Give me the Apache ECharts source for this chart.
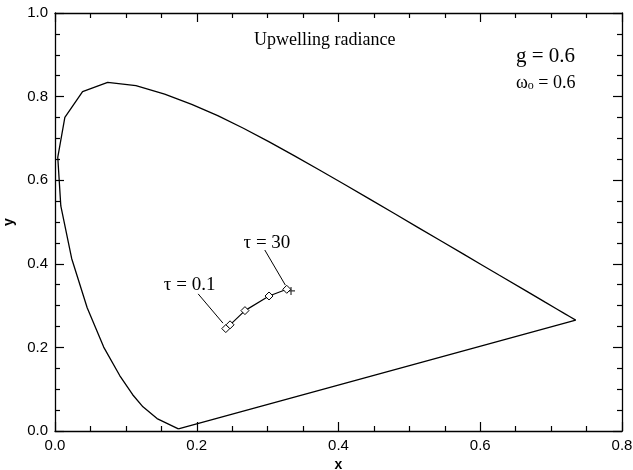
<!DOCTYPE html>
<html>
<head>
<meta charset="utf-8">
<script src="https://cdn.jsdelivr.net/npm/echarts@6/dist/echarts.min.js"></script>
<style>
    html, body { margin: 0; padding: 0; background: #fff; }
    #chart { width: 633px; height: 470px; }
</style>
</head>
<body>
<div id="chart"></div>
<script>
// spectral locus, closed by the purple line back to the start
const locusX = [0.1741, 0.1440, 0.1241, 0.1096, 0.0913, 0.0687, 0.0454, 0.0235, 0.0082, 0.0039,
    0.0139, 0.0389, 0.0743, 0.1142, 0.1547, 0.1929, 0.2296, 0.2658, 0.3016, 0.3373, 0.3731,
    0.4087, 0.4441, 0.4788, 0.5125, 0.5448, 0.5752, 0.6029, 0.6270, 0.6658, 0.6915, 0.7079,
    0.7190, 0.7260, 0.7347, 0.1741];
const locusY = [0.0050, 0.0297, 0.0578, 0.0868, 0.1327, 0.2007, 0.2950, 0.4127, 0.5384, 0.6548,
    0.7502, 0.8120, 0.8338, 0.8262, 0.8059, 0.7816, 0.7543, 0.7243, 0.6923, 0.6589, 0.6245,
    0.5896, 0.5547, 0.5202, 0.4866, 0.4544, 0.4242, 0.3965, 0.3725, 0.3340, 0.3083, 0.2920,
    0.2809, 0.2740, 0.2653, 0.0050];

// upwelling radiance chromaticity for increasing optical depth
const tauX = [0.241, 0.247, 0.268, 0.302, 0.327];
const tauY = [0.245, 0.254, 0.288, 0.323, 0.339];
const whiteX = [0.333];
const whiteY = [0.335];

// text labels and their leader lines
const tauLabels = ['τ = 0.1', 'τ = 30'];
const tauLabelX = [0.190, 0.299];
const tauLabelY = [0.349, 0.450];
const leader01X = [0.202, 0.237];
const leader01Y = [0.328, 0.258];
const leader30X = [0.296, 0.325];
const leader30Y = [0.433, 0.349];

const xTicks = [0, 0.8, 0.2];
const yTicks = [0, 1.0, 0.2];

const zip = (xs, ys) => xs.map((x, i) => [x, ys[i]]);
const fmt = v => v.toFixed(1);

const labelFont = { fontFamily: 'Liberation Sans', fontSize: 15, color: '#000' };
const serif = 'Liberation Serif';

function makeAxis(pos, ticks, showLabel) {
    return {
        type: 'value',
        position: pos,
        min: ticks[0],
        max: ticks[1],
        interval: ticks[2],
        splitLine: { show: false },
        axisLine: { show: true, onZero: false, lineStyle: { color: '#000', width: 1.3 } },
        axisTick: { show: true, inside: true, length: 9, lineStyle: { color: '#000', width: 1.2 } },
        minorTick: { show: true, splitNumber: 4, length: 5, lineStyle: { color: '#000', width: 1.2 } },
        axisLabel: Object.assign({ show: showLabel, formatter: fmt, margin: 7 }, labelFont)
    };
}

const chart = echarts.init(document.getElementById('chart'));
const xBottom = makeAxis('bottom', xTicks, true);
xBottom.name = 'x';
xBottom.nameLocation = 'middle';
xBottom.nameGap = 25;
xBottom.nameTextStyle = { fontFamily: 'Liberation Sans', fontSize: 14, fontWeight: 'bold', color: '#000' };
const yLeft = makeAxis('left', yTicks, true);
yLeft.name = 'y';
yLeft.nameLocation = 'middle';
yLeft.nameGap = 38;
yLeft.nameTextStyle = { fontFamily: 'Liberation Sans', fontSize: 14, fontWeight: 'bold', color: '#000' };

const blackLine = { color: '#000', width: 1.3 };

chart.setOption({
    animation: false,
    backgroundColor: '#fff',
    grid: { left: 55, right: 11, top: 13, bottom: 39, containLabel: false, outerBoundsMode: 'none' },
    xAxis: [xBottom, makeAxis('top', xTicks, false)],
    yAxis: [yLeft, makeAxis('right', yTicks, false)],
    graphic: [
        {
            type: 'text', left: 254, top: 31,
            style: { text: 'Upwelling radiance', fontFamily: serif, fontSize: 18, fill: '#000' }
        },
        {
            type: 'text', left: 516, top: 46,
            style: { text: 'g = 0.6', fontFamily: serif, fontSize: 21, fill: '#000' }
        },
        {
            type: 'text', left: 516, top: 74,
            style: {
                text: '{w|ω}{s|o}{w| = 0.6}',
                fill: '#000',
                rich: {
                    w: { fontFamily: serif, fontSize: 18, fill: '#000' },
                    s: { fontFamily: serif, fontSize: 12, fill: '#000', padding: [6, 0, 0, 0] }
                }
            }
        }
    ],
    series: [
        {
            type: 'line',
            data: zip(locusX, locusY),
            symbol: 'none',
            lineStyle: blackLine
        },
        {
            type: 'line',
            data: zip(tauX, tauY),
            symbol: 'diamond',
            symbolSize: 8,
            itemStyle: { color: '#fff', borderColor: '#000', borderWidth: 1 },
            lineStyle: { color: '#000', width: 1.2 }
        },
        {
            type: 'scatter',
            data: zip(whiteX, whiteY),
            symbol: 'path://M0,5L10,5M5,0L5,10',
            symbolSize: 8,
            itemStyle: { color: 'none', borderColor: '#000', borderWidth: 1.2 }
        },
        {
            type: 'line',
            data: zip(leader01X, leader01Y),
            symbol: 'none',
            lineStyle: { color: '#000', width: 1 }
        },
        {
            type: 'line',
            data: zip(leader30X, leader30Y),
            symbol: 'none',
            lineStyle: { color: '#000', width: 1 }
        },
        {
            type: 'scatter',
            data: tauLabels.map((t, i) => ({ value: [tauLabelX[i], tauLabelY[i]], name: t })),
            symbol: 'circle',
            symbolSize: 1,
            itemStyle: { color: '#fff', opacity: 1 },
            label: {
                show: true,
                position: 'inside',
                formatter: p => p.name,
                fontFamily: serif,
                fontSize: 19,
                color: '#000',
                opacity: 1,
                textBorderWidth: 0
            }
        }
    ]
});
</script>
</body>
</html>
